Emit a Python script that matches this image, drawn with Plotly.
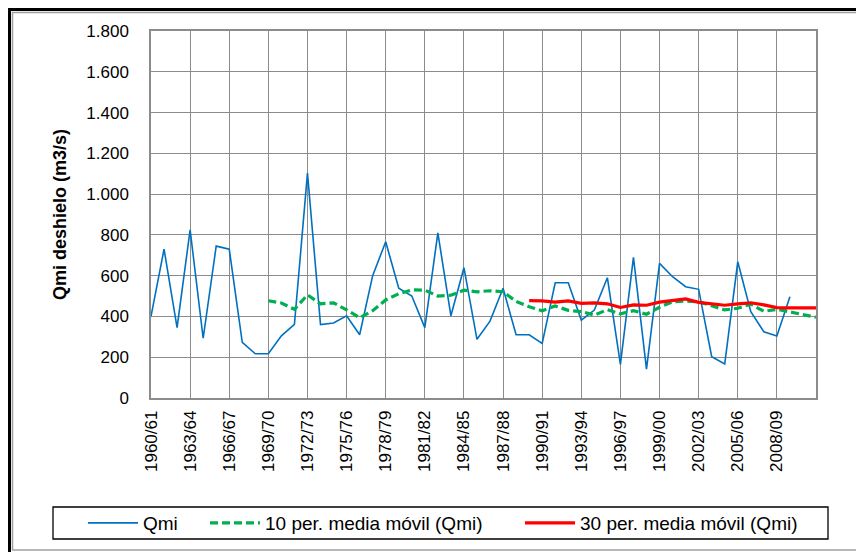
import plotly.graph_objects as go

# hydrological years (category axis)
years = [
    "1960/61", "1961/62", "1962/63", "1963/64", "1964/65", "1965/66", "1966/67",
    "1967/68", "1968/69", "1969/70", "1970/71", "1971/72", "1972/73", "1973/74",
    "1974/75", "1975/76", "1976/77", "1977/78", "1978/79", "1979/80", "1980/81",
    "1981/82", "1982/83", "1983/84", "1984/85", "1985/86", "1986/87", "1987/88",
    "1988/89", "1989/90", "1990/91", "1991/92", "1992/93", "1993/94", "1994/95",
    "1995/96", "1996/97", "1997/98", "1998/99", "1999/00", "2000/01", "2001/02",
    "2002/03", "2003/04", "2004/05", "2005/06", "2006/07", "2007/08", "2008/09",
    "2009/10", "2010/11", "2011/12",
]

# Qmi deshielo (m3/s), 1960/61 - 2009/10
qmi = [
    400, 730, 345, 825, 293, 745, 730, 273, 217, 217,
    305, 361, 1103, 360, 368, 403, 310, 600, 766, 538,
    500, 345, 810, 403, 639, 288, 377, 538, 310, 310,
    268, 565, 565, 382, 431, 590, 165, 690, 142, 660,
    595, 546, 533, 203, 167, 668, 423, 325, 304, 497,
]

# 10 per. media movil, from 1969/70
ma10 = [
    477, 466, 435, 506, 462, 467, 432, 394, 428, 481,
    511, 530, 529, 500, 504, 529, 521, 526, 521, 474,
    448, 428, 451, 430, 424, 407, 433, 413, 428, 411,
    445, 472, 476, 472, 452, 432, 440, 460, 425, 435,
    422, 407, 396,
]

# 30 per. media movil, from 1989/90
ma30 = [
    478, 476, 470, 476, 464, 467, 462, 444, 457, 455,
    470, 479, 486, 469, 461, 455, 462, 467, 457, 443,
    442, 442, 442,
]

FONT = "Liberation Sans, Arial, sans-serif"
GRID = "#8c8c8c"

fig = go.Figure()
fig.add_trace(go.Scatter(
    x=years[:len(qmi)], y=qmi, mode="lines", name="Qmi",
    line=dict(color="#0070C0", width=1.6), legendwidth=57))
fig.add_trace(go.Scatter(
    x=years[9:9 + len(ma10)], y=ma10, mode="lines",
    name="10 per. media móvil (Qmi)",
    line=dict(color="#00B050", width=3.2, dash="8px,4px"), legendwidth=250))
fig.add_trace(go.Scatter(
    x=years[29:29 + len(ma30)], y=ma30, mode="lines",
    name="30 per. media móvil (Qmi)",
    line=dict(color="#FF0000", width=3.2), legendwidth=225))


# page pixel -> paper helpers (plot area on the page is 151..816 x 31..398;
# the page body adds an 8px offset, so the figure itself is 856x544)
def px_x(p):
    return (p - 151) / 665.0


def px_y(p):
    return (398 - p) / 367.0


# chart frame (black top/left edge, gray inner lines)
frame = [
    dict(x0=px_x(8), x1=px_x(866), y0=px_y(9.5), y1=px_y(9.5), color="black", w=3),
    dict(x0=px_x(9.5), x1=px_x(9.5), y0=px_y(8), y1=px_y(552), color="black", w=3),
    dict(x0=px_x(12), x1=px_x(866), y0=px_y(12.5), y1=px_y(12.5), color="#a0a0a0", w=1.5),
    dict(x0=px_x(12.5), x1=px_x(12.5), y0=px_y(12), y1=px_y(550), color="#a0a0a0", w=1.5),
    dict(x0=px_x(12), x1=px_x(866), y0=px_y(550), y1=px_y(550), color="#a0a0a0", w=1.5),
]
for f in frame:
    fig.add_shape(type="line", xref="paper", yref="paper",
                  x0=f["x0"], x1=f["x1"], y0=f["y0"], y1=f["y1"],
                  line=dict(color=f["color"], width=f["w"]), layer="above")

# legend box
fig.add_shape(type="rect", xref="paper", yref="paper",
              x0=px_x(53), x1=px_x(828), y0=px_y(539), y1=px_y(507),
              line=dict(color="black", width=1.3), fillcolor="white", layer="below")

fig.update_layout(
    width=856, height=544,
    margin=dict(l=143, r=48, t=23, b=154, autoexpand=False),
    paper_bgcolor="white", plot_bgcolor="white",
    separators=",.",
    font=dict(family=FONT, size=17, color="black"),
    showlegend=True,
    legend=dict(
        orientation="h", x=px_x(83), xanchor="left", y=px_y(523), yanchor="middle",
        borderwidth=0, bgcolor="rgba(0,0,0,0)",
        font=dict(size=19), itemwidth=50,
    ),
)
fig.update_xaxes(
    type="category", range=[0, len(years) - 1], automargin=False,
    tickmode="array", tickvals=years[:49:3], tickangle=-90,
    showgrid=True, gridcolor=GRID, gridwidth=1.3,
    showline=True, linecolor=GRID, linewidth=1.5, mirror=True,
    ticks="", ticklabelstandoff=4, tickfont=dict(size=17),
)
fig.update_yaxes(
    range=[0, 1800], dtick=200, tickformat=",d", automargin=False,
    showgrid=True, gridcolor=GRID, gridwidth=1.3,
    showline=True, linecolor=GRID, linewidth=1.5, mirror=True,
    zeroline=False, ticks="", ticklabelstandoff=17, tickfont=dict(size=17),
    title=dict(text="<b>Qmi deshielo (m3/s)</b>", font=dict(size=18)),
)

fig.write_html("out.html")
